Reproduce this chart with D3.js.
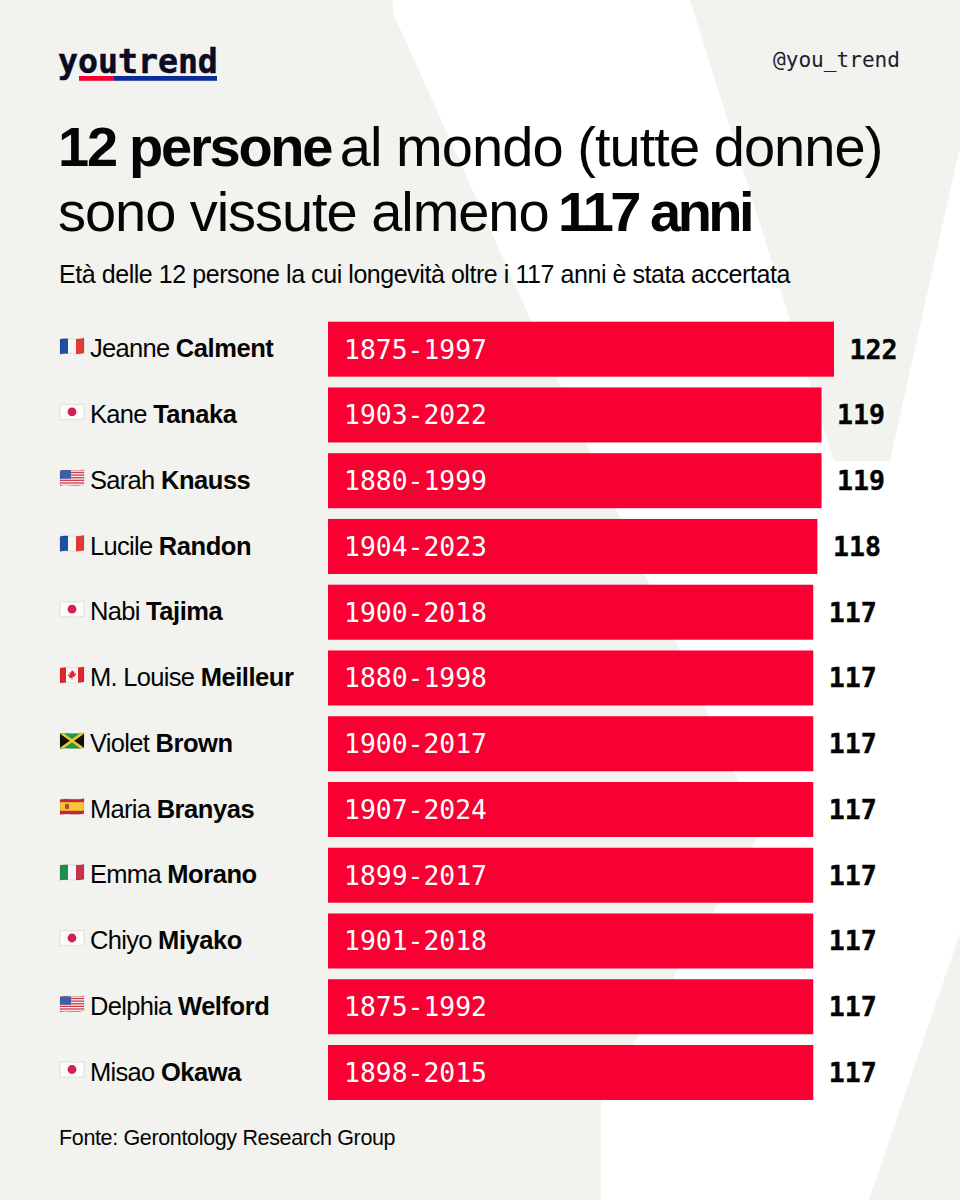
<!DOCTYPE html>
<html><head><meta charset="utf-8">
<script src="https://cdnjs.cloudflare.com/ajax/libs/d3/7.8.5/d3.min.js"></script>
<style>html,body{margin:0;padding:0;background:#fff}svg{display:block}</style>
</head><body><svg id="c" width="960" height="1200" viewBox="0 0 960 1200"></svg>
<script>
const firstNames=["Jeanne","Kane","Sarah","Lucile","Nabi","M. Louise","Violet","Maria","Emma","Chiyo","Delphia","Misao"];
const lastNames=["Calment","Tanaka","Knauss","Randon","Tajima","Meilleur","Brown","Branyas","Morano","Miyako","Welford","Okawa"];
const flags=["fr","jp","us","fr","jp","ca","jm","es","it","jp","us","jp"];
const lifespans=["1875-1997","1903-2022","1880-1999","1904-2023","1900-2018","1880-1998","1900-2017","1907-2024","1899-2017","1901-2018","1875-1992","1898-2015"];
const ages=[122,119,119,118,117,117,117,117,117,117,117,117];

const SANS="'Liberation Sans',Arial,sans-serif", MONO="'DejaVu Sans Mono',monospace";
const BG="#f2f2ee", RED="#f80032", BLUE="#0a2d9b", INK="#050505", NAVY="#0b0b24";
const svg=d3.select("#c");
const bgPath=[[393,0],[393,13],[761,832],[601,1098],[601,1200],[869,1200],[960,933],[960,147],[890,461],[834,461],[690,0]];
svg.append("rect").attr("width",960).attr("height",1200).attr("fill",BG);
svg.append("path").attr("d",d3.line()(bgPath)+"Z").attr("fill","#fff");

// header
svg.append("text").attr("x",58).attr("y",73).attr("font-family",MONO).attr("font-weight",700)
  .attr("font-size",33.2).attr("fill",NAVY).attr("stroke",NAVY).attr("stroke-width",0.5).text("youtrend");
svg.append("rect").attr("x",79).attr("y",76).attr("width",35).attr("height",4.8).attr("fill",RED);
svg.append("rect").attr("x",114).attr("y",76).attr("width",103).attr("height",4.8).attr("fill",BLUE);
svg.append("text").attr("x",900).attr("y",67).attr("text-anchor","end").attr("font-family",MONO)
  .attr("font-size",21.1).attr("fill","#20202c").text("@you_trend");

function rich(x,y,size,parts){
  const t=svg.append("text").attr("x",x).attr("y",y).attr("font-family",SANS).attr("font-size",size).attr("fill",INK).attr("xml:space","preserve");
  parts.forEach(p=>t.append("tspan").attr("font-weight",p[1]?700:400).attr("letter-spacing",p[2]).attr("dx",p[3]||0).text(p[0]));
  return t;
}
rich(58,166,56,[["12 persone",1,-2.25],[" ",0,-0.95,0],["al mondo (tutte donne)",0,-0.95,-6]]);
rich(58,231,56,[["sono vissute almeno ",0,-1.05],["117 anni",1,-3.5,-5]]);
rich(59,283,25,[["Età delle 12 persone la cui longevità oltre i 117 anni è stata accertata",0,-0.44]]);

// scales
const x=d3.scaleLinear().domain([0,122]).range([328,834]);
const y=d3.scaleBand().domain(d3.range(ages.length)).range([321.7,1100]).paddingInner(0.1635).paddingOuter(0);

const WAVE="M0 1.6C6 -0.4 14 2.8 24 0.4L24 15.4C14 17.8 6 14.6 0 16.6Z";
function flag(g,code){
  const W=24,H=17;
  const r=(a,b,w,h,f)=>g.append("rect").attr("x",a).attr("y",b).attr("width",w).attr("height",h).attr("fill",f);
  if(code==="fr"){r(0,0,8,H,"#1f4fa0");r(8,0,8,H,"#f6f6f6");r(16,0,8,H,"#e23a36");}
  if(code==="it"){r(0,0,8,H,"#1f8f4e");r(8,0,8,H,"#f6f6f6");r(16,0,8,H,"#c8324a");}
  if(code==="jp"){r(0,0,W,H,"#fbfbfb");g.append("circle").attr("cx",12).attr("cy",8.5).attr("r",4.4).attr("fill","#d0214f");}
  if(code==="us"){
    r(0,0,W,H,"#f4f4f4");
    d3.range(0,13,2).forEach(i=>r(0,i*H/13,W,H/13,"#d6384a"));
    r(0,0,11,9.5,"#3f5fa8");
  }
  if(code==="ca"){
    r(0,0,6,H,"#e0252c");r(6,0,12,H,"#f8f8f8");r(18,0,6,H,"#e0252c");
    g.append("path").attr("d","M12 3.2l1.2 2.2 1.4-.6-.5 3 1.7-.9.4 1-1.7 1.6.4 1-2.4-.3V13h-1v-1.8l-2.4.3.4-1L7.8 8.9l.4-1 1.7.9-.5-3 1.4.6z").attr("fill","#e0252c");
  }
  if(code==="jm"){
    r(0,0,W,H,"#1f9a45");
    g.append("path").attr("d","M0 0L12 8.5L0 17ZM24 0L12 8.5L24 17Z").attr("fill","#111");
    g.append("path").attr("d","M0 0L24 17M24 0L0 17").attr("stroke","#f5c92c").attr("stroke-width",2.6).attr("fill","none");
  }
  if(code==="es"){
    r(0,0,W,H,"#c5273a");r(0,4.2,W,8.6,"#f6c530");
    r(5,6,4,5,"#b5493a");
  }
}
const defs=svg.append("defs");
defs.append("clipPath").attr("id","fc").append("path").attr("d",WAVE);

const rows=svg.selectAll("g.row").data(ages).join("g").attr("class","row");
rows.append("rect").attr("x",x(0)).attr("y",(d,i)=>y(i)).attr("height",y.bandwidth())
  .attr("width",d=>x(d)-x(0)).attr("fill",RED);
rows.append("text").attr("x",x(0)+16).attr("y",(d,i)=>y(i)+y.bandwidth()/2+9.5)
  .attr("font-family",MONO).attr("font-size",26.4).attr("fill","#fff").text((d,i)=>lifespans[i]);
rows.append("text").attr("x",d=>x(d)+15.5).attr("y",(d,i)=>y(i)+y.bandwidth()/2+9.5)
  .attr("font-family",MONO).attr("font-weight",700).attr("font-size",26.6).attr("fill",INK)
  .attr("stroke",INK).attr("stroke-width",0.4).text(d=>d);
rows.each(function(d,i){
  const cy=y(i)+y.bandwidth()/2;
  const f=d3.select(this).append("g").attr("transform",`translate(60,${cy-11.5})`);
  flag(f.append("g").attr("clip-path","url(#fc)"),flags[i]);
  f.append("path").attr("d",WAVE).attr("fill","none").attr("stroke","rgba(0,0,0,.16)").attr("stroke-width",0.6);
  rich(90,cy+8.2,25.5,[[firstNames[i]+" ",0,-0.7],[lastNames[i],1,-0.45]]);
});
rich(59,1145,21.5,[["Fonte: Gerontology Research Group",0,-0.35]]);
</script></body></html>
